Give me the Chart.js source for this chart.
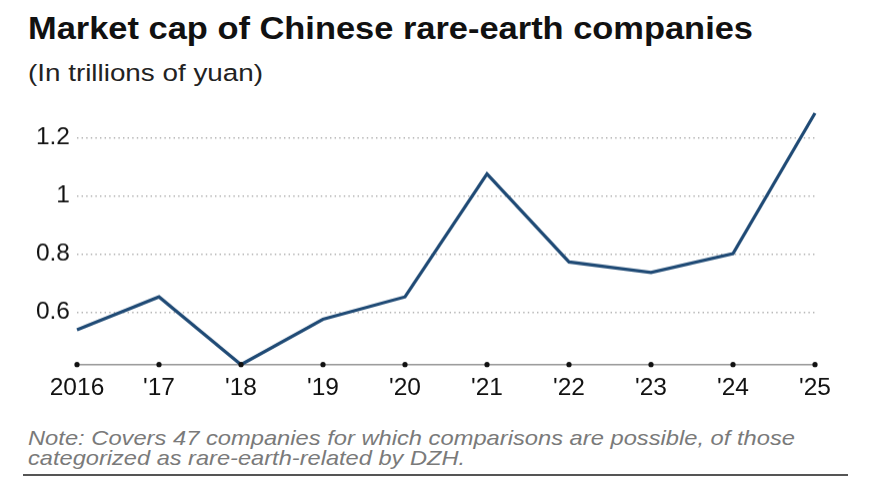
<!DOCTYPE html>
<html><head><meta charset="utf-8">
<script src="https://cdn.jsdelivr.net/npm/chart.js@4.4.1/dist/chart.umd.min.js"></script>
<style>
html,body{margin:0;padding:0;background:#fff;width:883px;height:498px;overflow:hidden;font-family:"Liberation Sans",Arial,sans-serif;}
.t{position:absolute;white-space:nowrap;transform-origin:0 0;}
#title{left:28px;top:10px;font-size:30.5px;font-weight:bold;color:#111;line-height:36px;}
#sub{left:28px;top:58px;font-size:24.5px;color:#222;line-height:30px;}
.note{left:28px;font-size:21px;font-style:italic;color:#7a7a7a;line-height:21px;}
#n1{top:427px;}
#n2{top:447px;}
#rule{position:absolute;left:23px;top:474px;width:825px;height:1.5px;background:#555;}
#wrap{position:absolute;left:0;top:87.3px;width:883px;height:316.7px;}
</style></head>
<body>
<div id="title" class="t" data-w="725">Market cap of Chinese rare-earth companies</div>
<div id="sub" class="t" data-w="235">(In trillions of yuan)</div>
<div id="n1" class="t note" data-w="767">Note: Covers 47 companies for which comparisons are possible, of those</div>
<div id="n2" class="t note" data-w="437">categorized as rare-earth-related by DZH.</div>
<div id="rule"></div>
<div id="wrap"><canvas id="c"></canvas></div>
<script>
const categories = ["2016","'17","'18","'19","'20","'21","'22","'23","'24","'25"];
const marketCap = [0.54,0.653,0.42,0.576,0.653,1.076,0.773,0.737,0.802,1.285];
const yTicks = [0.6,0.8,1,1.2];

document.querySelectorAll('.t').forEach(el=>{
  const w = el.getBoundingClientRect().width;
  const target = parseFloat(el.dataset.w);
  el.style.transform = 'scaleX(' + (target/w) + ')';
});

const axisDots = {
  id:'axisDots',
  afterDatasetsDraw(chart){
    const ctx = chart.ctx, xs = chart.scales.x, y = chart.chartArea.bottom;
    ctx.save();
    ctx.fillStyle = '#111';
    categories.forEach((c,i)=>{
      ctx.beginPath();
      ctx.arc(xs.getPixelForValue(i), y, 2.6, 0, Math.PI*2);
      ctx.fill();
    });
    ctx.restore();
  }
};

new Chart(document.getElementById('c'), {
  type:'line',
  data:{labels:categories, datasets:[{data:marketCap, borderColor:'#1f4a75', borderWidth:3.2, pointRadius:0, tension:0, clip:false}]},
  options:{
    responsive:true, maintainAspectRatio:false, animation:false,
    layout:{padding:{top:8.8,right:68,left:0,bottom:0}},
    plugins:{legend:{display:false}, tooltip:{enabled:false}},
    scales:{
      x:{type:'category', offset:false,
        grid:{display:false},
        border:{display:true,color:'#9a9a9a',width:1.5},
        ticks:{color:'#111',font:{family:'"Liberation Sans", Arial, sans-serif',size:24.5},padding:1,maxRotation:0,autoSkip:false},
        afterFit(s){s.height=40;}
      },
      y:{min:0.42,max:1.3,
        afterBuildTicks(s){s.ticks = yTicks.map(v=>({value:v}));},
        grid:{color:'#b0b0b0',lineWidth:1.4,drawTicks:false},
        border:{display:false,dash:[1.4,3.2]},
        ticks:{color:'#111',font:{family:'"Liberation Sans", Arial, sans-serif',size:24.5},padding:7,callback:v=>String(v)},
        afterFit(s){s.width=77;}
      }
    }
  },
  plugins:[axisDots]
});
</script>
</body></html>
